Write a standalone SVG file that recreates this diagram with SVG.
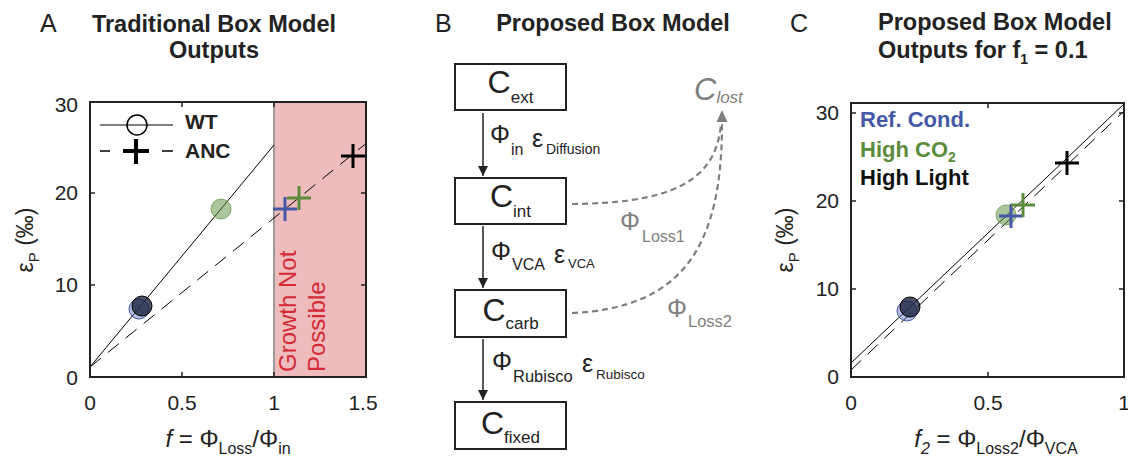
<svg xmlns="http://www.w3.org/2000/svg" width="1128" height="462" viewBox="0 0 1128 462">
<defs>
<style>
text{font-family:"Liberation Sans",Arial,sans-serif;fill:#222}
.ttl{font-size:23.5px;font-weight:bold}
.lbl{font-size:25px}
.tick{font-size:21px}
.tk{stroke:#222;stroke-width:1.5}
.ax{fill:none;stroke:#222;stroke-width:2}
.sol{stroke:#000;stroke-width:1;fill:none}
.dsh{stroke:#000;stroke-width:1;fill:none;stroke-dasharray:14 9}
.box{fill:#fff;stroke:#222;stroke-width:2}
.flow{stroke:#222;stroke-width:1.5;fill:none}
.loss{stroke:#7f7f7f;stroke-width:2.2;fill:none;stroke-dasharray:6 4}
.gray{fill:#808080}
.pb{stroke:#4458a7;stroke-width:3}
.pg{stroke:#5b8c3b;stroke-width:3}
.pk{stroke:#000;stroke-width:3}
.cdark{fill:#1e2440;fill-opacity:0.8;stroke:#000;stroke-width:1}
.cblue{fill:#5a6bc0;fill-opacity:0.45;stroke:#4458a7;stroke-width:1}
.cgreen{fill:#5b8c3b;fill-opacity:0.5;stroke:#5b8c3b;stroke-opacity:0.7;stroke-width:1}
</style>
<marker id="ah" viewBox="0 0 10 10" refX="10" refY="5" markerWidth="10" markerHeight="10" markerUnits="userSpaceOnUse" orient="auto">
<path d="M0,0 L10,5 L0,10 z" fill="#222"/>
</marker>
</defs>
<rect width="1128" height="462" fill="#fff"/>

<!-- Panel A -->
<g id="panelA">
<text x="40" y="32" class="lbl">A</text>
<text x="214" y="32" class="ttl" text-anchor="middle">Traditional Box Model</text>
<text x="214" y="58" class="ttl" text-anchor="middle">Outputs</text>
<rect x="274" y="102" width="92" height="275" fill="#efbcbe"/>
<line x1="274" y1="102" x2="274" y2="377" stroke="#9a9a9a" stroke-width="2"/>
<text transform="translate(296,372) rotate(-90)" font-size="24" style="fill:#d42a35">Growth Not</text>
<text transform="translate(325,372) rotate(-90)" font-size="24" style="fill:#d42a35">Possible</text>
<line class="sol" x1="90" y1="367" x2="274" y2="145"/>
<line class="dsh" x1="90" y1="367" x2="366" y2="143.5"/>
<circle class="cblue" cx="139" cy="309" r="10"/>
<circle class="cdark" cx="142" cy="306" r="10"/>
<circle class="cgreen" cx="221" cy="209" r="10"/>
<path class="pb" d="M273,209 h24 M285,197 v24"/>
<path class="pg" d="M287,198 h24 M299,186 v24"/>
<path class="pk" d="M341,156 h24 M353,144 v24"/>
<!-- legend -->
<line class="sol" x1="100" y1="125" x2="173" y2="125" stroke-width="1.5"/>
<circle cx="137" cy="125" r="10" fill="none" stroke="#000" stroke-width="1.5"/>
<text x="185" y="129" font-size="21" font-weight="bold">WT</text>
<path d="M100,151 h10 M162,151 h11" stroke="#000" stroke-width="1.5"/>
<path d="M123,151 h26 M136,139 v25" stroke="#000" stroke-width="4"/>
<text x="185" y="158" font-size="21" font-weight="bold">ANC</text>
<rect class="ax" x="90" y="102" width="276" height="275"/>
<path class="tk" d="M182,377 v-5 M182,102 v5 M274,377 v-5 M274,102 v5 M90,193 h5 M90,285 h5 M366,193 h-5 M366,285 h-5"/>
<g class="tick" text-anchor="end">
<text x="78" y="112">30</text><text x="78" y="200">20</text><text x="78" y="292">10</text><text x="78" y="385">0</text>
</g>
<g class="tick" text-anchor="middle">
<text x="90" y="410">0</text><text x="182" y="410">0.5</text><text x="274" y="410">1</text><text x="363" y="410">1.5</text>
</g>
<text transform="translate(33,240) rotate(-90)" font-size="23" text-anchor="middle">ε<tspan font-size="15" dy="6">P</tspan><tspan dy="-6"> (‰)</tspan></text>
<text x="228" y="447" font-size="24" text-anchor="middle"><tspan font-style="italic">f</tspan> = Φ<tspan font-size="16" dy="7">Loss</tspan><tspan dy="-7">/Φ</tspan><tspan font-size="16" dy="7">in</tspan></text>
</g>

<!-- Panel B -->
<g id="panelB-title">
<text x="435" y="32" class="lbl">B</text>
<text x="613" y="31" class="ttl" font-size="24" text-anchor="middle">Proposed Box Model</text>
</g>
<g id="connectors">
<line class="flow" x1="483" y1="113" x2="483" y2="176" marker-end="url(#ah)"/>
<line class="flow" x1="483" y1="226" x2="483" y2="288" marker-end="url(#ah)"/>
<line class="flow" x1="483" y1="339" x2="483" y2="400" marker-end="url(#ah)"/>
<path class="loss" d="M572,204 C665,203 716,185 721,124"/>
<path class="loss" d="M572,313 C680,308 722,250 722,124"/>
<path d="M716.5,122 L722,110 L727.5,122 z" fill="#7f7f7f"/>
<text x="490" y="143" font-size="25">Φ</text><text x="511" y="155" font-size="16">in</text>
<text x="532" y="147" font-size="25">ε</text><text x="546" y="154" font-size="14">Diffusion</text>
<text x="491" y="260" font-size="25">Φ</text><text x="512" y="270" font-size="16">VCA</text>
<text x="554" y="263" font-size="25">ε</text><text x="568" y="268" font-size="13">VCA</text>
<text x="492" y="370" font-size="25">Φ</text><text x="513" y="382" font-size="16.5">Rubisco</text>
<text x="582" y="372" font-size="25">ε</text><text x="596" y="379" font-size="13.5">Rubisco</text>
<text x="620" y="230" font-size="25" class="gray">Φ</text><text x="642" y="242" font-size="16" class="gray">Loss1</text>
<text x="667" y="317" font-size="25" class="gray">Φ</text><text x="688" y="327" font-size="16.5" class="gray">Loss2</text>
</g>
<g id="node-Cext">
<rect class="box" x="455" y="64" width="111" height="46"/>
<text x="510.5" y="93" text-anchor="middle"><tspan font-size="32">C</tspan><tspan font-size="17" dy="10">ext</tspan></text>
</g>
<g id="node-Cint">
<rect class="box" x="455" y="178" width="111" height="46"/>
<text x="510.5" y="207" text-anchor="middle"><tspan font-size="32">C</tspan><tspan font-size="17" dy="10">int</tspan></text>
</g>
<g id="node-Ccarb">
<rect class="box" x="455" y="290" width="111" height="47"/>
<text x="510.5" y="321" text-anchor="middle"><tspan font-size="32">C</tspan><tspan font-size="17" dy="8">carb</tspan></text>
</g>
<g id="node-Cfixed">
<rect class="box" x="455" y="402" width="111" height="47"/>
<text x="510.5" y="434" text-anchor="middle"><tspan font-size="32">C</tspan><tspan font-size="17" dy="9">fixed</tspan></text>
</g>
<g id="node-Clost">
<text x="694" y="100" font-style="italic" class="gray"><tspan font-size="31">C</tspan><tspan font-size="17" dy="3">lost</tspan></text>
</g>

<!-- Panel C -->
<g id="panelC">
<text x="790" y="32" class="lbl">C</text>
<text x="878" y="30" class="ttl" font-size="24">Proposed Box Model</text>
<text x="878" y="58" class="ttl" font-size="24">Outputs for f<tspan font-size="14" dy="6">1</tspan><tspan dy="-6"> = 0.1</tspan></text>
<line class="sol" x1="851" y1="363" x2="1124" y2="104"/>
<line class="dsh" x1="851" y1="370" x2="1124" y2="111"/>
<circle class="cblue" cx="907" cy="311" r="10"/>
<circle class="cdark" cx="910" cy="307" r="10"/>
<circle class="cgreen" cx="1006" cy="215" r="10"/>
<path class="pb" d="M999,216 h24 M1011,204 v24"/>
<path class="pg" d="M1011,205 h24 M1023,193 v24"/>
<path class="pk" d="M1055,163 h24 M1067,151 v24"/>
<text x="860" y="127" font-size="22" font-weight="bold" style="fill:#4458a7">Ref. Cond.</text>
<text x="860" y="157" font-size="22" font-weight="bold" style="fill:#5b8c3b">High CO<tspan font-size="14" dy="5">2</tspan></text>
<text x="860" y="185" font-size="22" font-weight="bold" style="fill:#111">High Light</text>
<rect class="ax" x="851" y="103" width="273" height="274"/>
<path class="tk" d="M988,377 v-5 M988,103 v5 M851,113 h5 M851,201 h5 M851,289 h5 M1124,113 h-5 M1124,201 h-5 M1124,289 h-5"/>
<g class="tick" text-anchor="end">
<text x="839" y="120">30</text><text x="839" y="208">20</text><text x="839" y="296">10</text><text x="839" y="384">0</text>
</g>
<g class="tick" text-anchor="middle">
<text x="851" y="410">0</text><text x="988" y="410">0.5</text><text x="1124" y="410">1</text>
</g>
<text transform="translate(793,240) rotate(-90)" font-size="23" text-anchor="middle">ε<tspan font-size="15" dy="6">P</tspan><tspan dy="-6"> (‰)</tspan></text>
<text x="996" y="447" font-size="24" text-anchor="middle"><tspan font-style="italic">f</tspan><tspan font-size="16" dy="7" font-style="italic">2</tspan><tspan dy="-7"> = Φ</tspan><tspan font-size="16" dy="7">Loss2</tspan><tspan dy="-7">/Φ</tspan><tspan font-size="16" dy="7">VCA</tspan></text>
</g>
</svg>
